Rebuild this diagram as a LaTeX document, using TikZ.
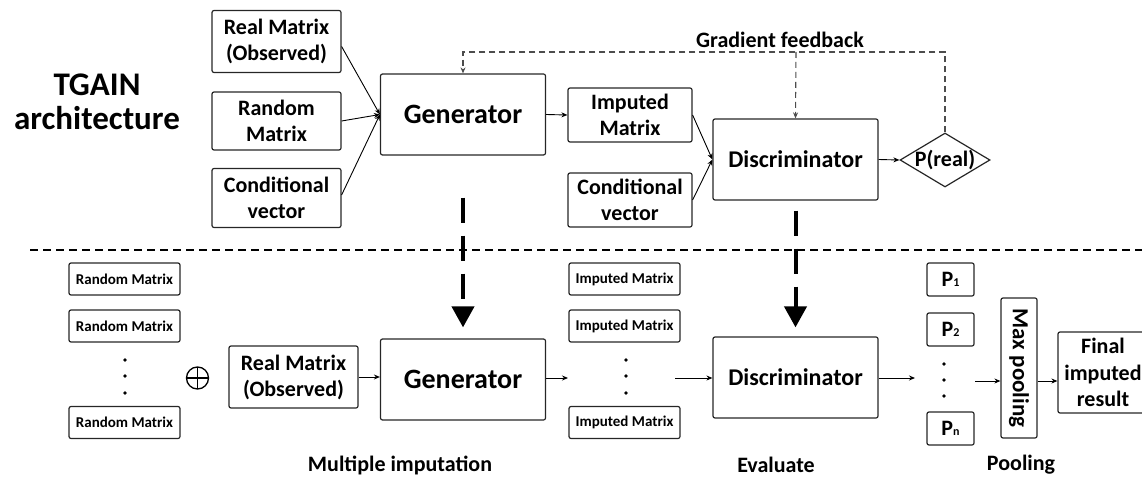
\documentclass[tikz,border=0pt]{standalone}
\usepackage{fontspec}
\setmainfont{Carlito}
\usepackage{tikz}
\usetikzlibrary{arrows.meta,shapes.geometric,positioning}

\newcommand{\psub}[1]{{\fontsize{12}{12}\selectfont #1}}

\tikzset{
  blk/.style={draw=black!85, rounded corners=2pt, line width=1.2pt, align=center, inner sep=0pt,
    font=\bfseries\fontsize{22}{26}\selectfont},
  inbox/.style={blk, minimum width=129pt, minimum height=62pt},
  midbox/.style={blk, minimum width=124pt, minimum height=54pt},
  bigbox/.style={blk, minimum width=165pt, minimum height=81pt, font=\bfseries\fontsize{28}{30}\selectfont},
  smallbox/.style={blk, minimum width=111pt, minimum height=32pt, font=\bfseries\fontsize{15}{17}\selectfont},
  pbox/.style={blk, minimum width=47pt, minimum height=33pt},
  arr/.style={line width=0.9pt, -{Stealth[length=6pt,width=5pt]}},
  fb/.style={draw=black!70, line width=1.1pt, dash pattern=on 6pt off 4pt},
  bigarr/.style={line width=4pt, dash pattern=on 25pt off 13pt, -{Triangle[length=21pt,width=22pt]}},
  vdot/.style={fill, circle, inner sep=0pt, minimum size=3.8pt},
  lbl/.style={font=\bfseries\fontsize{22}{26}\selectfont},
  oplusnode/.style={circle, draw, line width=1.3pt, minimum size=22pt, inner sep=0pt,
    path picture={\draw[line width=1.3pt] (path picture bounding box.north) -- (path picture bounding box.south)
      (path picture bounding box.west) -- (path picture bounding box.east);}}
}

\begin{document}
\begin{tikzpicture}[x=1pt, y=-1pt]
    \useasboundingbox (0,0) rectangle (1142,478);

    % upper part: training
    \node [font=\bfseries\fontsize{33}{34}\selectfont, align=center] (title) at (97,102) {TGAIN\\architecture};

    \node [inbox] (realT) at (276.5,41.5) {Real Matrix\\(Observed)};
    \node [inbox, minimum height=58pt] (randT) at (276.5,121) {Random\\Matrix};
    \node [inbox, minimum height=59pt] (condT) at (276.5,198) {Conditional\\vector};
    \node [bigbox] (genT) at (463,114.5) {Generator};
    \node [midbox] (impT) at (630,115) {Imputed\\Matrix};
    \node [midbox] (cond2T) at (630,200) {Conditional\\vector};
    \node [bigbox, font=\bfseries\fontsize{24}{28}\selectfont] (discT) at (795.5,159.5) {Discriminator};
    \node [diamond, draw=black!85, line width=1.2pt, inner sep=0pt, minimum width=90pt, minimum height=54pt,
      font=\bfseries\fontsize{22}{24}\selectfont] (preal) at (945,160) {\makebox[0pt]{P(real)}};

    \draw [arr] ([yshift=-5pt]realT.east) to (genT.west);
    \draw [arr] (randT.east) to (genT.west);
    \draw [arr] ([yshift=3pt]condT.east) to (genT.west);
    \draw [arr] (genT.east) to (impT.west);
    \draw [arr] (impT.east) to (discT.west);
    \draw [arr] (cond2T.east) to (discT.west);
    \draw [arr] (discT.east) to (preal.west);

    % gradient feedback
    \coordinate (fbR) at (945,52);
    \coordinate (fbM) at (796,52);
    \coordinate (fbL) at (463,52);
    \draw [fb, -{Stealth[length=6pt,width=5pt]}] (preal.north) -- (fbR) -- (fbL) -- (genT.north);
    \draw [fb, -{Stealth[length=6pt,width=5pt]}] (fbM) -- (discT.north);
    \node [lbl, anchor=base] (fbtext) at (780,48) {Gradient feedback};

    % separator
    \draw [line width=1.5pt, dash pattern=on 8pt off 5pt] (30,250) -- (1142,250);

    % lower part: imputation
    \node [smallbox] (rand1) at (124.5,279) {Random Matrix};
    \node [smallbox] (rand2) at (124.5,326) {Random Matrix};
    \node [smallbox] (rand3) at (124.5,422.5) {Random Matrix};
    \node [vdot] (rd1) at (125,360) {};
    \node [vdot] (rd2) at (125,376) {};
    \node [vdot] (rd3) at (125,393) {};
    \node [oplusnode] (plus) at (197.5,378) {};

    \node [inbox] (realB) at (293.5,377) {Real Matrix\\(Observed)};
    \node [bigbox] (genB) at (463,379.5) {Generator};

    \node [smallbox] (imp1) at (624.5,279) {Imputed Matrix};
    \node [smallbox] (imp2) at (624.5,326) {Imputed Matrix};
    \node [smallbox] (imp3) at (624.5,422.5) {Imputed Matrix};
    \node [vdot] (id1) at (626,360) {};
    \node [vdot] (id2) at (626,376) {};
    \node [vdot] (id3) at (626,393) {};

    \node [bigbox, font=\bfseries\fontsize{24}{28}\selectfont] (discB) at (795.5,377.5) {Discriminator};

    \node [pbox] (p1) at (950.5,279.5) {P\psub{1}};
    \node [pbox] (p2) at (950.5,329.5) {P\psub{2}};
    \node [pbox] (pn) at (950.5,428.5) {P\psub{n}};
    \node [vdot] (pd1) at (944,364) {};
    \node [vdot] (pd2) at (944,380) {};
    \node [vdot] (pd3) at (944,396) {};

    \node [blk, rotate=-90, minimum width=140pt, minimum height=36pt, font=\bfseries\fontsize{23}{26}\selectfont] (maxp) at (1019,368) {Max pooling};
    \node [blk, minimum width=90pt, minimum height=81pt, font=\bfseries\fontsize{22}{26.5}\selectfont] (final) at (1103,372.5) {Final\\imputed\\result};

    \coordinate (impIn) at (568,378);
    \coordinate (impOut) at (675,378);
    \coordinate (pIn) at (915,378);
    \coordinate (pOut) at (975,381);

    \draw [arr] (realB.east) -- (realB.east -| genB.west);
    \draw [arr] (genB.east |- impIn) -- (impIn);
    \draw [arr] (impOut) -- (impOut -| discB.west);
    \draw [arr] (discB.east |- pIn) -- (pIn);
    \draw [arr] (pOut) -- (pOut -| maxp.south);
    \draw [arr] (maxp.north |- pOut) -- (final.west |- pOut);

    % model hand-over
    \draw [bigarr, shorten <=42pt, shorten >=11pt] (genT) -- (genB);
    \draw [bigarr, shorten <=10pt, shorten >=9pt] (discT) -- (discB);

    \node [lbl] (lmul) at (400,465) {Multiple imputation};
    \node [lbl] (leva) at (776,465) {Evaluate};
    \node [lbl] (lpool) at (1021,465) {Pooling};
  \end{tikzpicture}
\end{document}
